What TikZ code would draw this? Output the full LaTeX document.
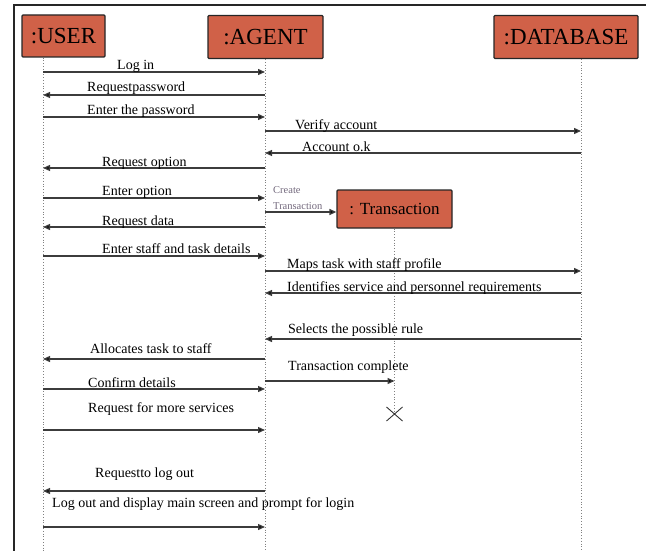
\documentclass[tikz,border=0pt]{standalone}
\usepackage{fontspec}
\setmainfont{Liberation Serif}
\usetikzlibrary{arrows.meta,calc}
\definecolor{boxred}{RGB}{208,97,72}
\definecolor{linegray}{RGB}{60,60,60}
\definecolor{smallgray}{RGB}{115,105,125}
\begin{document}
\begin{tikzpicture}[x=1pt,y=-1pt,
  objbox/.style={draw=black!85,line width=1.3pt,fill=boxred,rounded corners=1pt,inner sep=0pt,
    font=\fontsize{23pt}{25pt}\selectfont},
  life/.style={draw=gray,dotted,line width=0.8pt},
  msgline/.style={draw=linegray,line width=1.3pt,-{Triangle[length=7pt,width=6pt,fill=black]}},
  lbl/.style={anchor=base west,inner sep=0pt,font=\fontsize{14pt}{16pt}\selectfont},
  smalllbl/.style={anchor=base west,inner sep=0pt,text=smallgray,font=\fontsize{10.5pt}{11pt}\selectfont}]
\useasboundingbox (0,0) rectangle (646,551);
% frame
\draw[line width=1.3pt,black!85] (14,551) -- (14,5) -- (646,5);
% objects
\node[objbox,minimum width=83pt,minimum height=42pt] (user) at (63.5,36) {:USER};
\node[objbox,minimum width=115pt,minimum height=43pt] (agent) at (265.5,37) {:AGENT};
\node[objbox,minimum width=144pt,minimum height=43pt] (db) at (566,37) {:DATABASE};
\node[objbox,minimum width=115pt,minimum height=38pt,font=\fontsize{17pt}{19pt}\selectfont] (trans) at (394.5,209) {: Transaction};
% lifeline positions
\coordinate (u) at (43,0);
\coordinate (a) at (265,0);
\coordinate (d) at (581,0);
\coordinate (t) at (394.5,0);
\coordinate (xmark) at (394.5,414);
% lifelines
\draw[life] (user.south -| u) -- (u |- 0,551);
\draw[life] (agent.south -| a) -- (a |- 0,551);
\draw[life] (db.south -| d) -- (d |- 0,551);
\draw[life] (trans.south) -- (xmark);
\draw[line width=0.9pt,black!80] ($(xmark)+(-8,-7)$) -- ($(xmark)+(8,7)$)
  ($(xmark)+(-8,7)$) -- ($(xmark)+(8,-7)$);
% messages
\draw[msgline] (u |- 0,72) -- (a |- 0,72);
\node[lbl] (m1) at (117,70) {Log in};
\draw[msgline] (a |- 0,95) -- (u |- 0,95);
\node[lbl] (m2) at (87,92) {Requestpassword};
\draw[msgline] (u |- 0,117) -- (a |- 0,117);
\node[lbl] (m3) at (87,114) {Enter the password};
\draw[msgline] (a |- 0,131) -- (d |- 0,131);
\node[lbl] (m4) at (295,129) {Verify account};
\draw[msgline] (d |- 0,153) -- (a |- 0,153);
\node[lbl] (m5) at (302,151) {Account o.k};
\draw[msgline] (a |- 0,168) -- (u |- 0,168);
\node[lbl] (m6) at (102,166) {Request option};
\draw[msgline] (u |- 0,198) -- (a |- 0,198);
\node[lbl] (m7) at (102,195) {Enter option};
\draw[msgline] (a |- 0,212) -- (trans.west |- 0,212);
\node[smalllbl] (c1) at (273,193) {Create};
\node[smalllbl] (c2) at (273,209) {Transaction};
\draw[msgline] (a |- 0,227) -- (u |- 0,227);
\node[lbl] (m8) at (102,225) {Request data};
\draw[msgline] (u |- 0,256) -- (a |- 0,256);
\node[lbl] (m9) at (102,253) {Enter staff and task details};
\draw[msgline] (a |- 0,271) -- (d |- 0,271);
\node[lbl] (m10) at (287,268) {Maps task with staff profile};
\draw[msgline] (d |- 0,293) -- (a |- 0,293);
\node[lbl] (m11) at (287,291) {Identifies service and personnel requirements};
\draw[msgline] (d |- 0,339) -- (a |- 0,339);
\node[lbl] (m12) at (288,333) {Selects the possible rule};
\draw[msgline] (a |- 0,359) -- (u |- 0,359);
\node[lbl] (m13) at (90,353) {Allocates task to staff};
\draw[msgline] (a |- 0,381) -- (t |- 0,381);
\node[lbl] (m14) at (288,370) {Transaction complete};
\draw[msgline] (u |- 0,389) -- (a |- 0,389);
\node[lbl] (m15) at (88,387) {Confirm details};
\draw[msgline] (u |- 0,430) -- (a |- 0,430);
\node[lbl] (m16) at (88,412) {Request for more services};
\draw[msgline] (a |- 0,491) -- (u |- 0,491);
\node[lbl] (m17) at (95,477) {Requestto log out};
\draw[msgline] (u |- 0,527) -- (a |- 0,527);
\node[lbl] (m18) at (52,507) {Log out and display main screen and prompt for login};
\end{tikzpicture}
\end{document}
